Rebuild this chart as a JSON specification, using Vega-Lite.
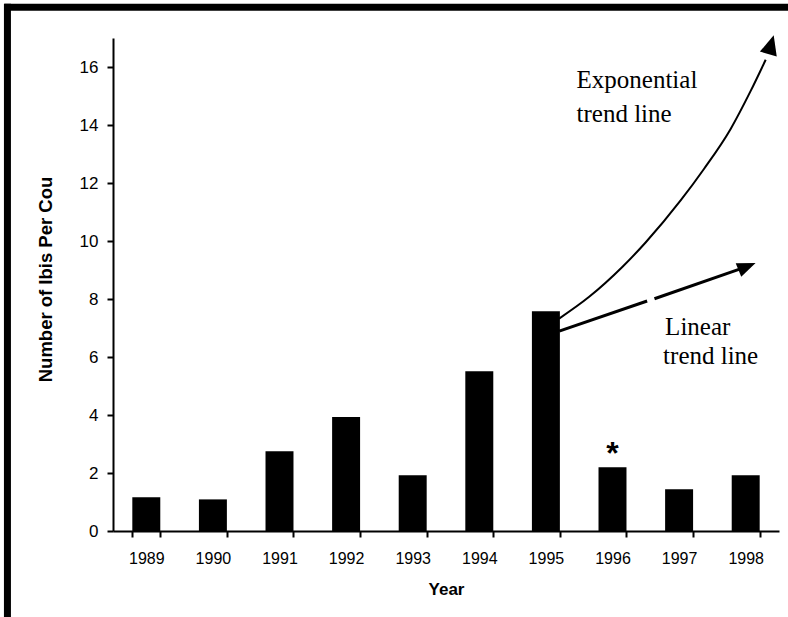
{
  "$schema": "https://vega.github.io/schema/vega-lite/v6.json",
  "autosize": "none",
  "width": 666,
  "height": 493,
  "padding": {"left": 113, "top": 38, "right": 9, "bottom": 86},
  "background": "white",
  "config": {"view": {"stroke": null}, "font": "Liberation Sans"},
  "datasets": {
    "bars": [
      {"year": 1989, "count": 1.16},
      {"year": 1990, "count": 1.09},
      {"year": 1991, "count": 2.75},
      {"year": 1992, "count": 3.93},
      {"year": 1993, "count": 1.92},
      {"year": 1994, "count": 5.51},
      {"year": 1995, "count": 7.58},
      {"year": 1996, "count": 2.2},
      {"year": 1997, "count": 1.44},
      {"year": 1998, "count": 1.92}
    ],
    "trends": [
      {"trend": "exp", "seg": "a", "year": 1995.198, "count": 7.324},
      {"trend": "exp", "seg": "a", "year": 1995.645, "count": 8.066},
      {"trend": "exp", "seg": "a", "year": 1996.147, "count": 9.103},
      {"trend": "exp", "seg": "a", "year": 1996.497, "count": 9.948},
      {"trend": "exp", "seg": "a", "year": 1997.023, "count": 11.397},
      {"trend": "exp", "seg": "a", "year": 1997.373, "count": 12.483},
      {"trend": "exp", "seg": "a", "year": 1997.774, "count": 13.866},
      {"trend": "exp", "seg": "a", "year": 1998.075, "count": 15.176},
      {"trend": "exp", "seg": "a", "year": 1998.3, "count": 16.25},
      {"trend": "lin", "seg": "b", "year": 1995.2, "count": 6.89},
      {"trend": "lin", "seg": "b", "year": 1996.52, "count": 7.93},
      {"trend": "lin", "seg": "c", "year": 1996.63, "count": 8.01},
      {"trend": "lin", "seg": "c", "year": 1997.93, "count": 9.05}
    ],
    "heads": [
      {"trend": "exp", "year": 1998.38, "count": 16.77},
      {"trend": "lin", "year": 1998.02, "count": 9.12}
    ],
    "notes": [
      {"kind": "serif", "year": 1995.46, "count": 15.54, "text": "Exponential"},
      {"kind": "serif", "year": 1995.46, "count": 14.37, "text": "trend line"},
      {"kind": "serif", "year": 1996.79, "count": 7.02, "text": "Linear"},
      {"kind": "serif", "year": 1996.76, "count": 6.02, "text": "trend line"},
      {"kind": "star", "year": 1996, "count": 2.32, "text": "*"}
    ],
    "frame": [{"x1": 1986.87, "x2": 1998.75, "ytop": 18.06, "xleft": 1986.915, "y1": 18.18, "y2": -3.0}]
  },
  "resolve": {"scale": {"x": "independent"}, "axis": {"x": "independent"}},
  "layer": [
    {
      "data": {"name": "bars"},
      "mark": {"type": "bar", "color": "black"},
      "encoding": {
        "x": {
          "field": "year",
          "type": "ordinal",
          "scale": {"paddingInner": 0.58, "paddingOuter": 0.29},
          "axis": {
            "tickBand": "extent",
            "labelAngle": 0,
            "grid": false,
            "domainColor": "black",
            "domainWidth": 2,
            "tickColor": "black",
            "tickWidth": 2,
            "tickSize": 6,
            "labelFontSize": 16,
            "labelColor": "black",
            "labelPadding": 13,
            "title": "Year",
            "titleFontSize": 17,
            "titleFontWeight": "bold",
            "titleColor": "black",
            "titlePadding": 15
          }
        },
        "y": {
          "field": "count",
          "type": "quantitative",
          "scale": {"domain": [0, 17], "nice": false},
          "axis": {
            "values": [0, 2, 4, 6, 8, 10, 12, 14, 16],
            "grid": false,
            "domainColor": "black",
            "domainWidth": 2,
            "tickColor": "black",
            "tickWidth": 2,
            "tickSize": 6,
            "labelFontSize": 17,
            "labelColor": "black",
            "labelPadding": 9,
            "title": "Number of Ibis Per Cou",
            "titleFontSize": 18.5,
            "titleFontWeight": "bold",
            "titleColor": "black",
            "titleX": -68,
            "titleY": 241,
            "titleAngle": -90,
            "titleAlign": "center",
            "titleBaseline": "middle"
          }
        }
      }
    },
    {
      "encoding": {
        "x": {"field": "year", "type": "quantitative", "scale": {"domain": [1988.5, 1998.5], "nice": false, "zero": false}, "axis": null},
        "y": {"field": "count", "type": "quantitative"}
      },
      "layer": [
        {
          "data": {"name": "trends"},
          "transform": [{"filter": "datum.trend === 'exp'"}],
          "mark": {"type": "line", "color": "black", "strokeWidth": 2, "interpolate": "monotone"},
          "encoding": {"detail": {"field": "seg"}}
        },
        {
          "data": {"name": "trends"},
          "transform": [{"filter": "datum.trend === 'lin'"}],
          "mark": {"type": "line", "color": "black", "strokeWidth": 3},
          "encoding": {"detail": {"field": "seg"}}
        },
        {
          "data": {"name": "heads"},
          "transform": [{"filter": "datum.trend === 'exp'"}],
          "mark": {"type": "point", "filled": true, "color": "black", "opacity": 1, "shape": "M1,0L-1,-0.9L-1,0.9Z", "size": 380, "angle": -74}
        },
        {
          "data": {"name": "heads"},
          "transform": [{"filter": "datum.trend === 'lin'"}],
          "mark": {"type": "point", "filled": true, "color": "black", "opacity": 1, "shape": "M1,0L-1,-0.8L-1,0.8Z", "size": 340, "angle": -22}
        },
        {
          "data": {"name": "notes"},
          "transform": [{"filter": "datum.kind === 'serif'"}],
          "mark": {"type": "text", "font": "Liberation Serif", "fontSize": 25, "align": "left", "baseline": "middle", "color": "black"},
          "encoding": {"text": {"field": "text"}}
        },
        {
          "data": {"name": "notes"},
          "transform": [{"filter": "datum.kind === 'star'"}],
          "mark": {"type": "text", "font": "Liberation Sans", "fontSize": 32, "fontWeight": "bold", "align": "center", "baseline": "alphabetic", "color": "black"},
          "encoding": {"text": {"field": "text"}}
        },
        {
          "data": {"name": "frame"},
          "mark": {"type": "rule", "color": "black", "strokeWidth": 7},
          "encoding": {
            "x": {"field": "x1", "type": "quantitative"},
            "x2": {"field": "x2"},
            "y": {"field": "ytop", "type": "quantitative"}
          }
        },
        {
          "data": {"name": "frame"},
          "mark": {"type": "rule", "color": "black", "strokeWidth": 7},
          "encoding": {
            "x": {"field": "xleft", "type": "quantitative"},
            "y": {"field": "y1", "type": "quantitative"},
            "y2": {"field": "y2"}
          }
        }
      ]
    }
  ]
}
